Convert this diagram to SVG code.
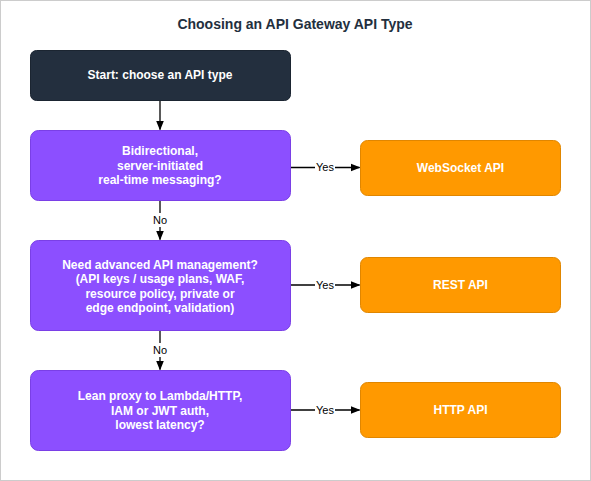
<svg xmlns="http://www.w3.org/2000/svg" width="591" height="481" viewBox="0 0 591 481">
<defs>
<style>
.t{font-family:"Liberation Sans",Arial,sans-serif;font-weight:bold;font-size:12px;fill:#fff;text-anchor:middle}
.title{font-family:"Liberation Sans",Arial,sans-serif;font-weight:bold;font-size:14px;fill:#232F3E;text-anchor:middle}
.lbl{font-family:"Liberation Sans",Arial,sans-serif;font-size:11px;fill:#000;text-anchor:middle}
.dark{fill:#232F3E;stroke:#1b2531;stroke-width:1}
.dec{fill:#8C4FFF;stroke:#7a3fe6;stroke-width:1}
.out{fill:#FF9900;stroke:#e08600;stroke-width:1}
.edge{stroke:#000;stroke-width:1.3;fill:none;marker-end:url(#ah)}
</style>
<marker id="ah" markerWidth="10" markerHeight="10" refX="9" refY="5" orient="auto" markerUnits="userSpaceOnUse">
<path d="M0,1 L10,5 L0,9 Z" fill="#000"/>
</marker>
</defs>
<rect x="0.5" y="0.5" width="590" height="480" fill="#fff" stroke="#cccccc"/>
<text class="title" x="295" y="29">Choosing an API Gateway API Type</text>
<g id="connectors">
<path class="edge" d="M160,100.5 V129.5"/>
<path class="edge" d="M160,200.5 V239.5"/>
<path class="edge" d="M160,330.5 V369.5"/>
<path class="edge" d="M290.5,167.5 H359.5"/>
<path class="edge" d="M290.5,285 H359.5"/>
<path class="edge" d="M290.5,410 H359.5"/>
<rect x="149" y="213" width="22" height="14" fill="#fff"/>
<text class="lbl" x="160" y="224">No</text>
<rect x="149" y="343" width="22" height="14" fill="#fff"/>
<text class="lbl" x="160" y="354">No</text>
<rect x="315" y="160" width="20" height="14" fill="#fff"/>
<text class="lbl" x="325" y="171">Yes</text>
<rect x="315" y="278" width="20" height="14" fill="#fff"/>
<text class="lbl" x="325" y="289">Yes</text>
<rect x="315" y="403" width="20" height="14" fill="#fff"/>
<text class="lbl" x="325" y="414">Yes</text>
</g>
<g id="start">
<rect class="dark" x="30.5" y="50.5" width="260" height="50" rx="6"/>
<text class="t" x="160" y="79">Start: choose an API type</text>
</g>
<g id="q1">
<rect class="dec" x="30.5" y="130.5" width="260" height="70" rx="8"/>
<text class="t" x="160" y="155">Bidirectional,</text>
<text class="t" x="160" y="169.5">server-initiated</text>
<text class="t" x="160" y="184">real-time messaging?</text>
</g>
<g id="q2">
<rect class="dec" x="30.5" y="240.5" width="260" height="90" rx="8"/>
<text class="t" x="160" y="268.5">Need advanced API management?</text>
<text class="t" x="160" y="283">(API keys / usage plans, WAF,</text>
<text class="t" x="160" y="297.5">resource policy, private or</text>
<text class="t" x="160" y="312">edge endpoint, validation)</text>
</g>
<g id="q3">
<rect class="dec" x="30.5" y="370.5" width="260" height="80" rx="8"/>
<text class="t" x="160" y="400">Lean proxy to Lambda/HTTP,</text>
<text class="t" x="160" y="414.5">IAM or JWT auth,</text>
<text class="t" x="160" y="429">lowest latency?</text>
</g>
<g id="websocket">
<rect class="out" x="360.5" y="140.5" width="200" height="55" rx="7"/>
<text class="t" x="460.5" y="172">WebSocket API</text>
</g>
<g id="rest">
<rect class="out" x="360.5" y="257.5" width="200" height="55" rx="7"/>
<text class="t" x="460.5" y="289">REST API</text>
</g>
<g id="http">
<rect class="out" x="360.5" y="382.5" width="200" height="55" rx="7"/>
<text class="t" x="460.5" y="414">HTTP API</text>
</g>
</svg>
